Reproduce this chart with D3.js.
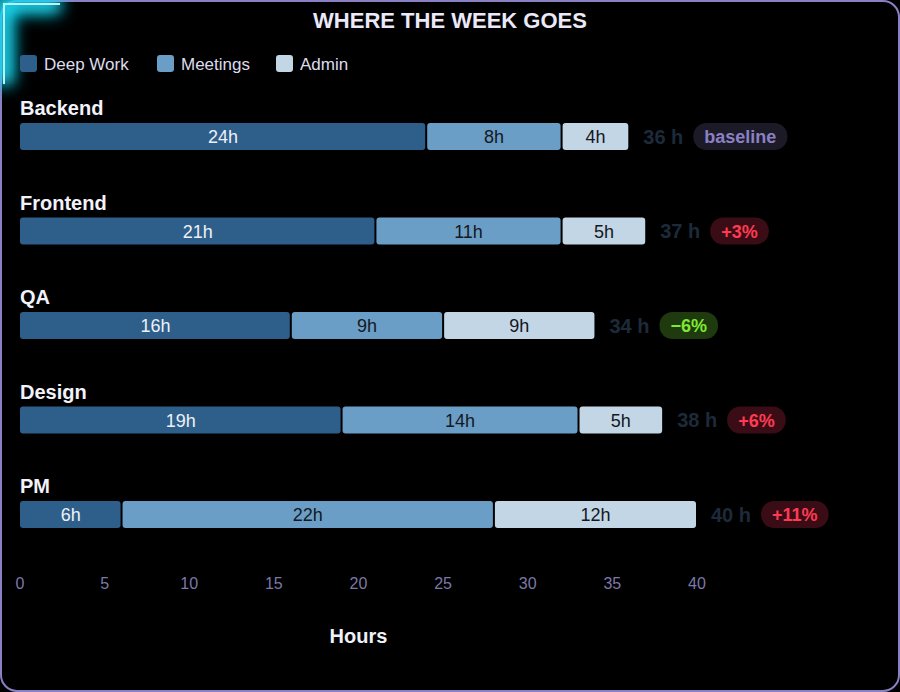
<!DOCTYPE html>
<html>
<head>
<meta charset="utf-8">
<script src="https://cdn.jsdelivr.net/npm/d3@7"></script>
<style>
  html, body { margin: 0; padding: 0; background: #000; }
  svg { display: block; font-family: "Liberation Sans", Arial, sans-serif; }
</style>
</head>
<body>
<div id="chart"></div>
<script>
// data
const teams = ["Backend", "Frontend", "QA", "Design", "PM"];
const categories = ["Deep Work", "Meetings", "Admin"];
const deepWork = [24, 21, 16, 19, 6];
const meetings = [8, 11, 9, 14, 22];
const admin = [4, 5, 9, 5, 12];
const badges = ["baseline", "+3%", "\u22126%", "+6%", "+11%"];
const xTicks = [0, 5, 10, 15, 20, 25, 30, 35, 40];

const colors = ["#2e5f8a", "#6a9ec6", "#c3d6e5"];
const W = 900, H = 692;

const svg = d3.select("#chart").append("svg")
    .attr("width", W)
    .attr("height", H);

const defs = svg.append("defs");
const glow = defs.append("filter").attr("id", "glow")
    .attr("x", "-100%").attr("y", "-100%").attr("width", "300%").attr("height", "300%");
glow.append("feGaussianBlur").attr("stdDeviation", 8);

// frame
svg.append("rect")
    .attr("x", 1).attr("y", 1)
    .attr("width", W - 2).attr("height", H - 2)
    .attr("rx", 16)
    .attr("fill", "#000")
    .attr("stroke", "#8a80c4")
    .attr("stroke-width", 2);

// glowing corner bracket
const corner = "M4,84 L4,4 L60,4";
svg.append("path").attr("d", corner)
    .attr("fill", "none").attr("stroke", "#10d0ec")
    .attr("stroke-width", 20)
    .attr("filter", "url(#glow)");
svg.append("path").attr("d", corner)
    .attr("fill", "none").attr("stroke", "#30e0f4")
    .attr("stroke-width", 6).attr("opacity", 0.8)
    .attr("filter", "url(#glow)");
svg.append("path").attr("d", corner)
    .attr("fill", "none").attr("stroke", "#b8f6ff")
    .attr("stroke-width", 2);

// title
svg.append("text")
    .attr("x", W / 2).attr("y", 28)
    .attr("text-anchor", "middle")
    .attr("fill", "#ebe8fa")
    .style("font-size", "22px").style("font-weight", "bold")
    .text("WHERE THE WEEK GOES");

// legend
const legendX = [20, 157, 276];
const legend = svg.append("g").selectAll("g")
    .data(categories).join("g")
    .attr("transform", (d, i) => `translate(${legendX[i]},55)`);
legend.append("rect")
    .attr("width", 17).attr("height", 17).attr("rx", 3)
    .attr("fill", (d, i) => colors[i]);
legend.append("text")
    .attr("x", 24).attr("y", 15)
    .attr("fill", "#dcdcec")
    .style("font-size", "17px")
    .text(d => d);

// scales
const x = d3.scaleLinear().domain([0, 40]).range([20, 697]);
const rowTop = d3.scalePoint().domain(teams).range([123, 501]);
const barH = 27;

const rows = teams.map((t, i) => {
    const vals = [deepWork[i], meetings[i], admin[i]];
    let acc = 0;
    const segs = vals.map((v, k) => {
        const s = { start: acc, end: acc + v, value: v, k: k };
        acc += v;
        return s;
    });
    return { team: t, segs: segs, total: acc, badge: badges[i] };
});

const rowG = svg.append("g").selectAll("g")
    .data(rows).join("g")
    .attr("transform", d => `translate(0,${rowTop(d.team)})`);

rowG.append("text")
    .attr("x", 20).attr("y", -8)
    .attr("fill", "#f2f2fa")
    .style("font-size", "20px").style("font-weight", "bold")
    .text(d => d.team);

const seg = rowG.selectAll("g.seg")
    .data(d => d.segs).join("g").attr("class", "seg");
seg.append("rect")
    .attr("x", d => x(d.start) + (d.start > 0 ? 1 : 0))
    .attr("width", d => x(d.end) - x(d.start) - (d.start > 0 ? 1 : 0) - 1)
    .attr("height", barH)
    .attr("rx", 3)
    .attr("fill", d => colors[d.k]);
seg.append("text")
    .attr("x", d => (x(d.start) + x(d.end)) / 2)
    .attr("y", barH / 2 + 6.5)
    .attr("text-anchor", "middle")
    .attr("fill", d => d.k === 0 ? "#eef0f8" : "#151822")
    .style("font-size", "18px")
    .text(d => d.value + "h");

// totals
const totals = rowG.append("text")
    .attr("x", d => x(d.total) + 14)
    .attr("y", barH / 2 + 7)
    .attr("fill", "#1d2a3a")
    .style("font-size", "20px").style("font-weight", "bold")
    .text(d => d.total + " h");

// badges
rowG.each(function(d, i) {
    const g = d3.select(this);
    const tw = totals.nodes()[i].getComputedTextLength();
    const bx = x(d.total) + 14 + tw + 10;
    let bg = "#1b1a26", fg = "#8c80c4";
    if (d.badge.startsWith("+")) { bg = "#3a0d16"; fg = "#ff3a52"; }
    else if (d.badge !== "baseline") { bg = "#1e3a0e"; fg = "#7ee832"; }
    const r = g.append("rect")
        .attr("y", 0)
        .attr("height", barH)
        .attr("rx", 13)
        .attr("fill", bg);
    const t = g.append("text")
        .attr("y", barH / 2 + 6.5)
        .attr("text-anchor", "middle")
        .attr("fill", fg)
        .style("font-size", "18px").style("font-weight", "bold")
        .text(d.badge);
    const bw = t.node().getComputedTextLength() + 22;
    r.attr("x", bx).attr("width", bw);
    t.attr("x", bx + bw / 2);
});

// x axis (labels only)
svg.append("g").selectAll("text")
    .data(xTicks).join("text")
    .attr("x", d => x(d))
    .attr("y", 589)
    .attr("text-anchor", "middle")
    .attr("fill", "#7c78aa")
    .style("font-size", "16px")
    .text(d => d);

svg.append("text")
    .attr("x", (x(0) + x(40)) / 2)
    .attr("y", 643)
    .attr("text-anchor", "middle")
    .attr("fill", "#f0f0f8")
    .style("font-size", "20px").style("font-weight", "bold")
    .text("Hours");
</script>
</body>
</html>
